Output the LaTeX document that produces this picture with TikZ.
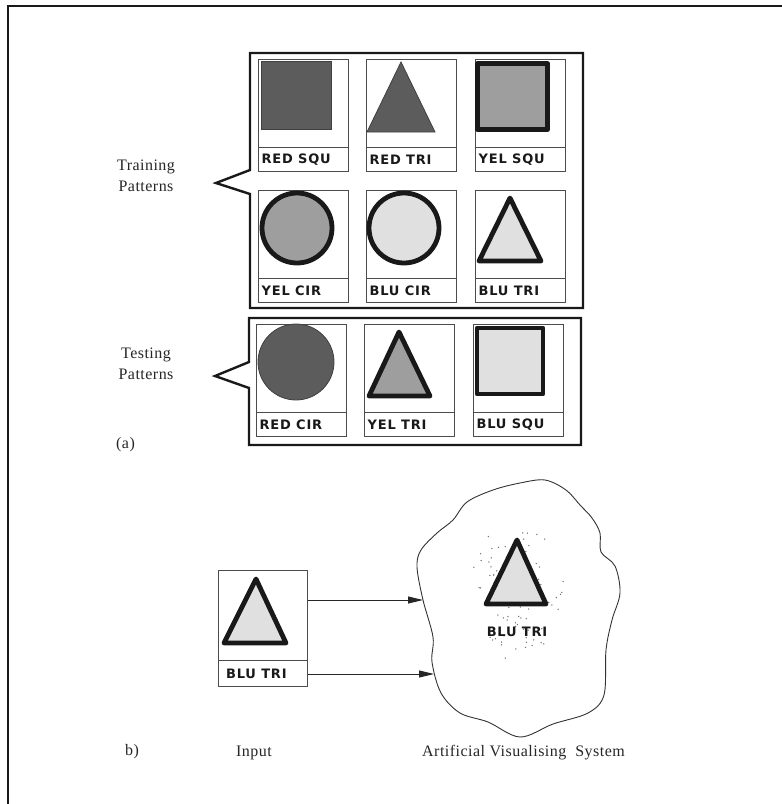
\documentclass[tikz,border=0pt]{standalone}
\usepackage{fontspec}
\setmainfont[LetterSpace=3]{Liberation Serif}
\newfontfamily\tagfont[LetterSpace=6]{DejaVu Sans}
\usetikzlibrary{arrows.meta}

\definecolor{redgray}{gray}{0.36}
\definecolor{yelgray}{gray}{0.62}
\definecolor{blugray}{gray}{0.88}
\definecolor{inkline}{gray}{0.10}

\tikzset{
  frameline/.style={draw=inkline, line width=2.2pt},
  boxline/.style={draw=inkline, line width=2.4pt, line join=miter},
  cell/.style={draw=black!70, line width=1.1pt, minimum width=90pt,
    minimum height=112pt, inner sep=0pt, anchor=north west},
  sepline/.style={draw=black!70, line width=1.1pt},
  tag/.style={font=\tagfont\bfseries\fontsize{13}{13}\selectfont,
    inner sep=0pt, text=inkline},
  lbl/.style={font=\fontsize{16}{18}\selectfont, inner sep=0pt, text=black!85},
  flat/.style={draw=black!75, line width=0.8pt},
  heavy/.style={draw=inkline, line width=4.8pt, line join=round},
  redfill/.style={fill=redgray},
  yelfill/.style={fill=yelgray},
  blufill/.style={fill=blugray},
  cloudline/.style={draw=black!80, line width=0.9pt},
  arr/.style={draw=black!85, line width=1pt,
    -{Triangle[length=15pt,width=7pt]}},
}

% one pattern card: name, x, y of top left corner, caption
\newcommand\patcell[4]{%
  \node[cell] (#1) at (#2,#3) {};
  \draw[sepline] ([yshift=25pt]#1.south west) -- ([yshift=25pt]#1.south east);
  \node[tag, anchor=west] (#1t) at ([xshift=3.5pt,yshift=12.5pt]#1.south west) {#4};
}

\begin{document}
\begin{tikzpicture}[x=1pt,y=-1pt]
\useasboundingbox (0,0) rectangle (782,804);

% page frame
\draw[frameline] (8,804) -- (8,6) -- (782,6);

% training group with its pointer
\draw[boxline] (250,170) -- (250,53) -- (583,53) -- (583,308) -- (250,308)
  -- (250,194) -- (216,183) -- cycle;
% testing group with its pointer
\draw[boxline] (249,362) -- (249,318) -- (581,318) -- (581,445) -- (249,445)
  -- (249,388) -- (215,376) -- cycle;

% training cards
\patcell{rs}{258}{59}{RED SQU}
\patcell{rt}{366}{59}{RED TRI}
\patcell{ys}{475}{59}{YEL SQU}
\patcell{yc}{258}{190}{YEL CIR}
\patcell{bc}{366}{190}{BLU CIR}
\patcell{bt}{475}{190}{BLU TRI}
% testing cards
\patcell{rc}{256}{324}{RED CIR}
\patcell{yt}{364}{324}{YEL TRI}
\patcell{bs}{473}{324}{BLU SQU}

% shapes inside the cards
\begin{scope}[shift={(rs.north west)}]
  \fill[redfill] (3,2) rectangle (73,70);
  \draw[flat] (3,2) rectangle (73,70);
\end{scope}
\begin{scope}[shift={(rt.north west)}]
  \draw[flat, redfill] (35,3) -- (1,73) -- (69,73) -- cycle;
\end{scope}
\begin{scope}[shift={(ys.north west)}]
  \draw[heavy, yelfill] (2.5,4.5) rectangle (72.5,70.5);
\end{scope}
\begin{scope}[shift={(yc.north west)}]
  \draw[heavy, yelfill] (39,38) circle (35);
\end{scope}
\begin{scope}[shift={(bc.north west)}]
  \draw[heavy, blufill] (38,38) circle (35);
\end{scope}
\begin{scope}[shift={(bt.north west)}]
  \draw[heavy, blufill] (35,8) -- (4,71) -- (66,71) -- cycle;
\end{scope}
\begin{scope}[shift={(rc.north west)}]
  \draw[flat, redfill] (40,38) circle (38);
\end{scope}
\begin{scope}[shift={(yt.north west)}]
  \draw[heavy, yelfill] (35,8) -- (5,72) -- (66,72) -- cycle;
\end{scope}
\begin{scope}[shift={(bs.north west)}]
  \draw[heavy, blufill] (4,4) rectangle (70,70);
\end{scope}

% group captions
\node[lbl, anchor=base] (trA) at (146,170) {Training};
\node[lbl, anchor=base] (trB) at (146,191) {Patterns};
\node[lbl, anchor=base] (teA) at (146,358) {Testing};
\node[lbl, anchor=base] (teB) at (146,379) {Patterns};
\node[lbl, anchor=base west] (pa) at (116,448) {(a)};

% part b: input card
\node[cell, minimum width=89pt, minimum height=116pt] (inp) at (218,570) {};
\draw[sepline] ([yshift=27pt]inp.south west) -- ([yshift=27pt]inp.south east);
\node[tag, anchor=west] (inpt) at ([xshift=8pt,yshift=13.5pt]inp.south west) {BLU TRI};
\draw[heavy, blufill] (256,579) -- (224,643) -- (286,643) -- cycle;

% the visualising system
\draw[cloudline] plot[smooth cycle, tension=0.55] coordinates {
  (545,480) (566,490) (580,505) (592,518) (600,533) (601,552) (615,566)
  (620,593) (612,620) (606,650) (604,695) (588,713) (553,724) (520,737)
  (488,722) (460,713) (441,693) (432,662) (433,637) (423,600) (417,567)
  (421,550) (437,533) (453,520) (467,502) (493,490) (520,483)};
\coordinate (inA) at (423,600);
\coordinate (inB) at (434,674);

% speckle around the recalled pattern
\pgfmathsetseed{11}
\foreach \i in {1,...,80}{
  \pgfmathsetmacro\ang{rnd*360}
  \pgfmathsetmacro\rad{sqrt(rnd)}
  \fill[black!55] ({515+50*\rad*cos(\ang)},{592+68*\rad*sin(\ang)}) circle (0.75);
}
\draw[heavy, blufill] (517,540) -- (486,604) -- (546,604) -- cycle;
\node[tag] (outt) at (517,632) {BLU TRI};

% input lines
\draw[arr] (inp.east |- inA) -- (inA);
\draw[arr] (inp.east |- inB) -- (inB);

% part b captions
\node[lbl, anchor=base west] (pb) at (125,755) {b)};
\node[lbl, anchor=base] (inlbl) at (254,756) {Input};
\node[lbl, anchor=base west] (avs) at (422,756) {Artificial Visualising\ \ System};
\end{tikzpicture}
\end{document}
